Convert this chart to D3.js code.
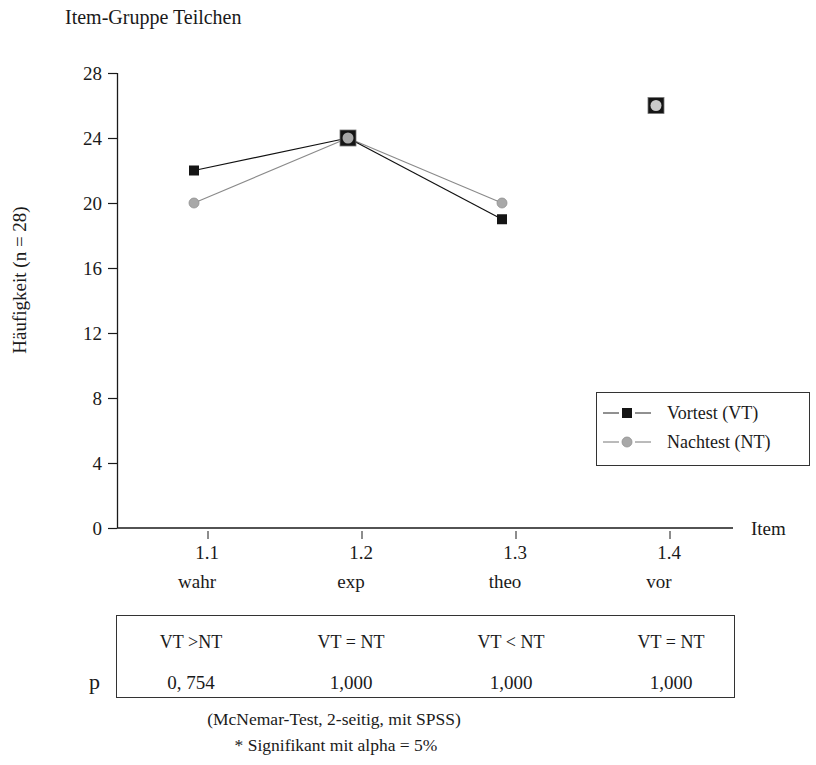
<!DOCTYPE html>
<html>
<head>
<meta charset="utf-8">
<script src="https://cdn.jsdelivr.net/npm/d3@7"></script>
<style>
  body { margin: 0; background: #fff; }
</style>
</head>
<body>
<svg id="chart" width="816" height="765"></svg>
<script>
// Items of the group "Teilchen"
const items = ["1.1", "1.2", "1.3", "1.4"];
const itemNames = ["wahr", "exp", "theo", "vor"];
// Frequencies (n = 28)
const vortest = [22, 24, 19, 26];
const nachtest = [20, 24, 20, 26];
// Whether an item is joined to the previous one by a line
const joined = [false, true, true, false];
const yTicks = [0, 4, 8, 12, 16, 20, 24, 28];
// McNemar test results per item
const comparison = ["VT >NT", "VT = NT", "VT < NT", "VT = NT"];
const pValues = ["0, 754", "1,000", "1,000", "1,000"];

const FONT = "Liberation Serif";
const FS = 19;
const INK = "#1a1a1a";

const svg = d3.select("#chart")
  .attr("font-family", FONT).attr("fill", INK);

const plot = { left: 117, right: 733, top: 73, bottom: 528 };
const y = d3.scaleLinear().domain([0, 28]).range([plot.bottom, plot.top]);
const x = d3.scalePoint().domain(items).range([194, 656]);
const tickShift = 14; // item ticks and numbers sit slightly right of the markers
const nameShift = 3;
// columns of the test table
const col = d3.scalePoint().domain(items).range([191, 671]);

function txt(sel, size) {
  return sel.append("text").attr("font-family", FONT).attr("font-size", size || FS).attr("fill", INK);
}

// Title
txt(svg, 20).attr("x", 65).attr("y", 24).text("Item-Gruppe Teilchen");

// Y axis
const yAxis = svg.append("g").attr("transform", `translate(${plot.left},0)`)
  .call(d3.axisLeft(y).tickValues(yTicks).tickSize(9).tickPadding(6).tickSizeOuter(0));
yAxis.attr("font-family", FONT);
yAxis.select(".domain").attr("stroke", INK).attr("stroke-width", 1.3)
  .attr("d", `M0.5,${plot.top}V${plot.bottom}`);
yAxis.selectAll(".tick line").attr("stroke", INK).attr("stroke-width", 1.2);
yAxis.selectAll(".tick text").attr("font-family", FONT).attr("font-size", FS).attr("fill", INK)
  .attr("dy", "0.35em");

txt(svg)
  .attr("transform", "translate(26,280) rotate(-90)")
  .attr("text-anchor", "middle").text("Häufigkeit (n = 28)");

// X axis line
svg.append("line").attr("x1", plot.left).attr("x2", plot.right)
  .attr("y1", plot.bottom).attr("y2", plot.bottom)
  .attr("stroke", INK).attr("stroke-width", 1.3);
txt(svg).attr("x", 751).attr("y", 535).text("Item");

const xTicks = svg.append("g");
xTicks.selectAll("line").data(items).join("line")
  .attr("x1", d => x(d) + tickShift).attr("x2", d => x(d) + tickShift)
  .attr("y1", 531).attr("y2", 539)
  .attr("stroke", INK).attr("stroke-width", 1);
xTicks.selectAll("text.num").data(items).join("text").attr("class", "num")
  .attr("font-family", FONT).attr("font-size", FS).attr("fill", INK)
  .attr("x", d => x(d) + tickShift - 1).attr("y", 559).attr("text-anchor", "middle")
  .text(d => d);
xTicks.selectAll("text.name").data(items).join("text").attr("class", "name")
  .attr("font-family", FONT).attr("font-size", FS).attr("fill", INK)
  .attr("x", d => x(d) + nameShift).attr("y", 588).attr("text-anchor", "middle")
  .text((d, i) => itemNames[i]);

// Series lines
function segs(vals) {
  const out = [];
  vals.forEach((v, i) => { if (joined[i]) out.push([[items[i - 1], vals[i - 1]], [items[i], v]]); });
  return out;
}
const line = d3.line().x(d => x(d[0])).y(d => y(d[1]));
svg.append("g").selectAll("path").data(segs(nachtest)).join("path")
  .attr("d", line).attr("fill", "none").attr("stroke", "#8a8a8a").attr("stroke-width", 1.1);
svg.append("g").selectAll("path").data(segs(vortest)).join("path")
  .attr("d", line).attr("fill", "none").attr("stroke", "#111").attr("stroke-width", 1.2);

// Markers: coinciding values get an enlarged square framing the circle
const same = items.map((d, i) => vortest[i] === nachtest[i]);
svg.append("g").selectAll("rect").data(items).join("rect")
  .each(function (d, i) {
    const s = same[i] ? 16 : 10;
    d3.select(this).attr("x", x(d) - s / 2).attr("y", y(vortest[i]) - s / 2)
      .attr("width", s).attr("height", s)
      .attr("fill", "#151515").attr("stroke", same[i] ? "#777" : "none").attr("stroke-width", 0.8);
  });
svg.append("g").selectAll("circle").data(items).join("circle")
  .attr("cx", d => x(d)).attr("cy", (d, i) => y(nachtest[i]))
  .attr("r", (d, i) => same[i] ? 5.5 : 5)
  .attr("fill", (d, i) => i === 3 ? "#c8c8c8" : "#a8a8a8")
  .attr("stroke", (d, i) => same[i] ? "none" : "#909090").attr("stroke-width", 0.8);

// Legend: short line pieces on either side of the marker
const lg = svg.append("g");
lg.append("rect").attr("x", 596.5).attr("y", 392.5).attr("width", 213).attr("height", 73)
  .attr("fill", "#fff").attr("stroke", "#333").attr("stroke-width", 1);
const legendRows = [
  { label: "Vortest (VT)", y: 413, color: "#222" },
  { label: "Nachtest (NT)", y: 442, color: "#777" }
];
legendRows.forEach((r, i) => {
  [[603, 619], [635, 651]].forEach(([a, b]) => {
    lg.append("line").attr("x1", a).attr("x2", b).attr("y1", r.y).attr("y2", r.y)
      .attr("stroke", r.color).attr("stroke-width", 1);
  });
  if (i === 0) {
    lg.append("rect").attr("x", 622).attr("y", r.y - 5).attr("width", 10).attr("height", 10).attr("fill", "#151515");
  } else {
    lg.append("circle").attr("cx", 627).attr("cy", r.y).attr("r", 5)
      .attr("fill", "#a8a8a8").attr("stroke", "#909090").attr("stroke-width", 0.8);
  }
  txt(lg, 18).attr("x", 667).attr("y", r.y + 6).text(r.label);
});

// Test results table
svg.append("rect").attr("x", 116.5).attr("y", 615.5).attr("width", 618).attr("height", 82)
  .attr("fill", "none").attr("stroke", "#333").attr("stroke-width", 1);
txt(svg, 22).attr("x", 89).attr("y", 689).text("p");
svg.append("g").selectAll("text").data(comparison).join("text")
  .attr("font-family", FONT).attr("font-size", 18).attr("fill", INK)
  .attr("x", (d, i) => col(items[i])).attr("y", 648).attr("text-anchor", "middle")
  .text(d => d);
svg.append("g").selectAll("text").data(pValues).join("text")
  .attr("font-family", FONT).attr("font-size", FS).attr("fill", INK)
  .attr("x", (d, i) => col(items[i])).attr("y", 689).attr("text-anchor", "middle")
  .text(d => d);

txt(svg, 17.5).attr("x", 334).attr("y", 725).attr("text-anchor", "middle")
  .text("(McNemar-Test, 2-seitig, mit SPSS)");
txt(svg, 17.5).attr("x", 336).attr("y", 751).attr("text-anchor", "middle")
  .text("* Signifikant mit alpha = 5%");
</script>
</body>
</html>
